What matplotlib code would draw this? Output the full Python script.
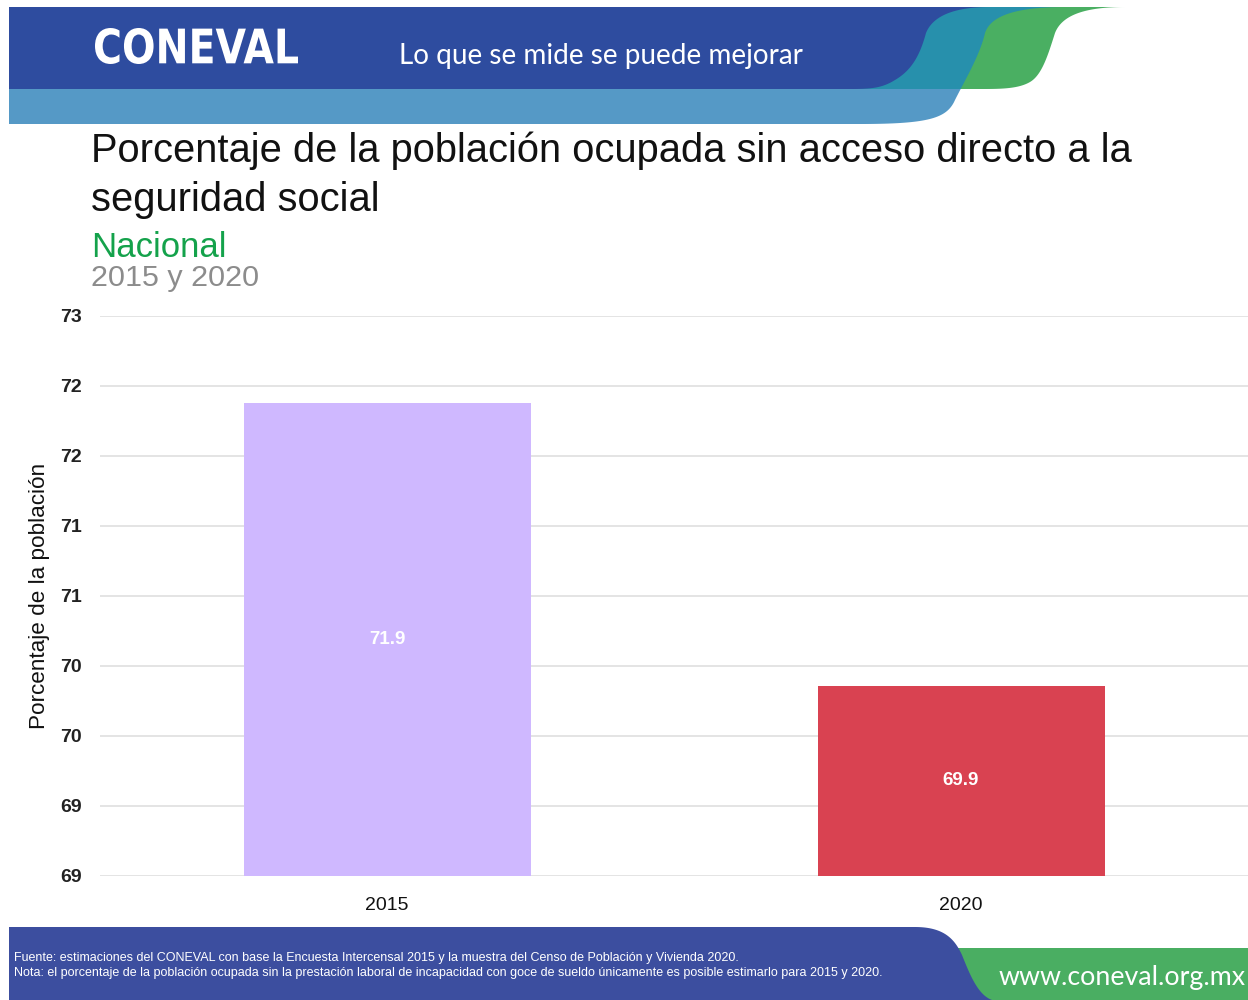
import numpy as np
import matplotlib
matplotlib.use("Agg")
import matplotlib.pyplot as plt
from matplotlib.patches import Polygon, Rectangle, PathPatch
from matplotlib.textpath import TextPath
from matplotlib.font_manager import FontProperties, fontManager
from matplotlib.transforms import Affine2D

# ---------------- data ----------------
years = ["2015", "2020"]
values = [71.88, 69.86]
value_labels = ["71.9", "69.9"]
bar_colors = ["#CFB8FF", "#D94251"]
y_ticks = [68.5, 69.0, 69.5, 70.0, 70.5, 71.0, 71.5, 72.0, 72.5]
y_tick_labels = ["69", "69", "70", "70", "71", "71", "72", "72", "73"]

title_lines = ["Porcentaje de la población ocupada sin acceso directo a la",
               "seguridad social"]
subtitle = "Nacional"
period = "2015 y 2020"
ylabel = "Porcentaje de la población"
source_lines = [
    "Fuente: estimaciones del CONEVAL con base la Encuesta Intercensal 2015 y la muestra del Censo de Población y Vivienda 2020.",
    "Nota: el porcentaje de la población ocupada sin la prestación laboral de incapacidad con goce de sueldo únicamente es posible estimarlo para 2015 y 2020.",
]
logo = "CONEVAL"
tagline = "Lo que se mide se puede mejorar"
url = "www.coneval.org.mx"

# ---------------- figure ----------------
W, H = 1248, 1000
fig = plt.figure(figsize=(W / 100, H / 100), dpi=100)
bg = fig.add_axes([0, 0, 1, 1], zorder=0)
bg.set_xlim(0, W)
bg.set_ylim(H, 0)
bg.axis("off")

names = {f.name for f in fontManager.ttflist}
SANS = "Liberation Sans"
NARROW = "Liberation Sans Narrow" if "Liberation Sans Narrow" in names else SANS


def bez(p0, p1, p2, p3, n=40):
    p = np.array([p0, p1, p2, p3], float)
    t = np.linspace(0, 1, n)[:, None]
    return (1 - t) ** 3 * p[0] + 3 * (1 - t) ** 2 * t * p[1] + 3 * (1 - t) * t ** 2 * p[2] + t ** 3 * p[3]


def curve(segs):
    return np.vstack([bez(*s) for s in segs])


def poly(pts, color, clip=None, z=1):
    pg = Polygon(pts, closed=True, facecolor=color, edgecolor="none", zorder=z)
    bg.add_patch(pg)
    if clip is not None:
        r = Rectangle(clip[:2], clip[2], clip[3], transform=bg.transData)
        pg.set_clip_path(r)
    return pg


renderer = fig.canvas.get_renderer()


def fit_text(x, y, s, width, **kw):
    t = bg.text(x, y, s, fontsize=10, **kw)
    bb = t.get_window_extent(renderer)
    t.set_fontsize(10 * width / bb.width)
    return t


# ---------------- header ----------------
green_edge = curve([[(1125, 7), (1085, 7), (1062, 15), (1055, 33)],
                    [(1055, 33), (1048, 55), (1042, 75), (1030, 82)],
                    [(1030, 82), (1018, 89), (1000, 89), (980, 89)]])
poly(np.vstack([[(930, 7)], green_edge, [(930, 89)]]), "#4AAF62", z=1)

teal_edge = curve([[(1065, 7), (1010, 7), (990, 18), (985, 33)],
                   [(985, 33), (980, 55), (965, 80), (955, 100)],
                   [(955, 100), (947, 118), (930, 124), (860, 124)]])
big = np.vstack([[(9, 7)], teal_edge, [(9, 124)]])
poly(big, "#2790AC", clip=(0, 0, W, 89), z=2)
poly(big, "#5599C6", clip=(0, 89, W, 40), z=2)

dark_edge = curve([[(990, 7), (950, 7), (932, 18), (926, 33)],
                   [(926, 33), (920, 55), (912, 70), (895, 80)],
                   [(895, 80), (882, 88), (872, 89), (850, 89)]])
poly(np.vstack([[(9, 7)], dark_edge, [(9, 89)]]), "#2E4C9F", z=3)

# logo text fitted to its box
tp = TextPath((0, 0), logo, prop=FontProperties(family="DejaVu Sans", weight="bold"))
ext = tp.get_extents()
lx0, lx1, ly0, ly1 = 95, 298, 28, 64
tr = Affine2D().translate(-ext.x0, -ext.y0).scale((lx1 - lx0) / ext.width, -(ly1 - ly0) / ext.height).translate(lx0, ly1)
bg.add_patch(PathPatch(tr.transform_path(tp), facecolor="white", edgecolor="none", zorder=5))

fit_text(399, 56, tagline, 404, color="white", family="Lato", ha="left", va="center", zorder=5)

# ---------------- titles ----------------
t1 = fit_text(91, 162, title_lines[0], 1045, color="#111111", family=SANS, ha="left", va="baseline")
bg.text(91, 211, title_lines[1], fontsize=t1.get_fontsize(), color="#111111", family=SANS, ha="left", va="baseline")
fit_text(91, 257, subtitle, 136, color="#14A24B", family=SANS, ha="left", va="baseline")
fit_text(91, 286, period, 169, color="#8C8C8C", family=SANS, ha="left", va="baseline")

# ---------------- chart ----------------
ax = fig.add_axes([100 / W, 1 - 876 / H, 1148 / W, 560 / H], zorder=2)
ax.patch.set_alpha(0)
x = np.arange(len(years))
ax.bar(x, values, width=0.5, color=bar_colors, zorder=3)
ax.set_xlim(-0.5, len(years) - 0.5)
ax.set_ylim(y_ticks[0], y_ticks[-1])
ax.set_yticks(y_ticks, y_tick_labels, fontsize=14, family=SANS, fontweight="bold", color="#222222")
ax.set_xticks(x, years, fontsize=14, family=SANS, color="#111111")
ax.tick_params(axis="y", length=0, pad=13)
ax.tick_params(axis="x", length=0, pad=15)
ax.grid(axis="y", color="#E2E2E2", linewidth=1.3, zorder=0)
for s in ax.spines.values():
    s.set_visible(False)
for xi, v, lab in zip(x, values, value_labels):
    ax.text(xi, (y_ticks[0] + v) / 2, lab, ha="center", va="center", color="white",
            fontsize=13.5, family=SANS, fontweight="bold")

bg.text(40, 596, ylabel, rotation=90, ha="center", va="center", fontsize=16.2, family=SANS, color="#111111")

# ---------------- footer ----------------
poly([(930, 948), (W, 948), (W, H), (930, H)], "#4AAE62", z=1)
foot_edge = curve([[(915, 927), (945, 927), (955, 940), (962, 955)],
                   [(962, 955), (970, 975), (978, 995), (992, 1000)]])
poly(np.vstack([[(9, 927)], foot_edge, [(9, H)]]), "#3C4E9F", z=2)

f1 = fit_text(14, 958, source_lines[0], 722, color="white", family=NARROW, ha="left", va="center", zorder=5)
bg.text(14, 973, source_lines[1], fontsize=f1.get_fontsize(), color="white", family=NARROW, ha="left", va="center", zorder=5)
fit_text(999, 977, url, 246, color="white", family="Lato", ha="left", va="center", zorder=5)

fig.savefig("out.png", dpi=100)
